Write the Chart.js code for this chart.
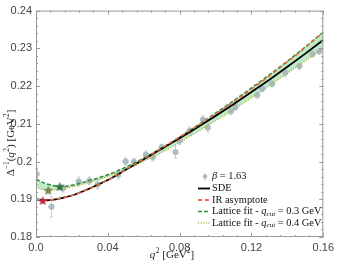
<!DOCTYPE html>
<html>
<head>
<meta charset="utf-8">
<script src="https://cdn.jsdelivr.net/npm/chart.js@4"></script>
<style>
  html, body { margin: 0; padding: 0; background: #fff; }
  #wrap { width: 338px; height: 263px; }
</style>
</head>
<body>
<div id="wrap"><canvas id="chart"></canvas></div>
<script>
// lattice data (beta = 1.63)
const latQ2 = [0.0003, 0.0086, 0.0150, 0.0238, 0.0297, 0.0343, 0.0458, 0.0499, 0.0545, 0.0612, 0.0650, 0.0700, 0.0777, 0.0800, 0.0856, 0.0930, 0.0957, 0.1085, 0.1110, 0.1232, 0.1260, 0.1315, 0.1388, 0.1467, 0.1540, 0.1577];
const latVal = [0.1967, 0.1880, 0.1929, 0.1947, 0.1949, 0.1939, 0.1965, 0.2000, 0.1999, 0.2018, 0.2012, 0.2038, 0.2025, 0.2055, 0.2081, 0.2111, 0.2090, 0.2133, 0.2144, 0.2176, 0.2193, 0.2206, 0.2236, 0.2253, 0.2285, 0.2292];
const latErr = [0.0015, 0.0027, 0.0010, 0.0012, 0.0010, 0.0012, 0.0012, 0.0010, 0.0010, 0.0010, 0.0010, 0.0008, 0.0016, 0.0010, 0.0010, 0.0010, 0.0012, 0.0008, 0.0008, 0.0008, 0.0008, 0.0008, 0.0012, 0.0008, 0.0008, 0.0008];

// curves
const curveQ2 = [0, 0.005, 0.01, 0.015, 0.02, 0.03, 0.04, 0.05, 0.06, 0.07, 0.08, 0.09, 0.10, 0.11, 0.12, 0.13, 0.14, 0.15, 0.16];
const sde   = [0.1900, 0.1897, 0.1899, 0.1904, 0.1910, 0.1929, 0.1951, 0.1978, 0.2006, 0.2034, 0.2062, 0.2091, 0.2121, 0.2152, 0.2184, 0.2217, 0.2251, 0.2286, 0.2322];
const irAsym = [0.1900, 0.1897, 0.1899, 0.1904, 0.1910, 0.1929, 0.1951, 0.1979, 0.2007, 0.2036, 0.2065, 0.2095, 0.2126, 0.2158, 0.2192, 0.2227, 0.2264, 0.2302, 0.2343];
const fit03 = [0.1953, 0.1942, 0.1936, 0.1934, 0.1937, 0.1950, 0.1965, 0.1985, 0.2009, 0.2036, 0.2065, 0.2096, 0.2128, 0.2161, 0.2195, 0.2230, 0.2266, 0.2304, 0.2343];
const fit04 = [0.1932, 0.1925, 0.1925, 0.1928, 0.1933, 0.1945, 0.1960, 0.1979, 0.2001, 0.2024, 0.2051, 0.2079, 0.2108, 0.2138, 0.2169, 0.2201, 0.2234, 0.2267, 0.2300];

// minima marked with stars
const starQ2 = [0.0037, 0.0068, 0.0132];
const starVal = [0.1897, 0.1924, 0.1934];
const starColors = ["#d81e48", "#7f8c3c", "#2c7a3c"];

const xTickLabels = ["0.0", "0.04", "0.08", "0.12", "0.16"];
const yTickLabels = ["0.18", "0.19", "0.2", "0.21", "0.22", "0.23", "0.24"];

const pointColor = "#aabec1";
const serif = "'Liberation Serif', 'DejaVu Serif', serif";
const sans = "'Liberation Sans', Arial, sans-serif";

function xy(xs, ys) {
	return xs.map((x, i) => ({ x: x, y: ys[i] }));
}

function makeStar(color, size) {
	const c = document.createElement("canvas");
	c.width = size;
	c.height = size;
	const g = c.getContext("2d");
	const r = size / 2 - 0.5;
	g.beginPath();
	for (let i = 0; i < 10; i++) {
		const rr = i % 2 ? r * 0.45 : r;
		const a = -Math.PI / 2 + (i * Math.PI) / 5;
		const px = size / 2 + rr * Math.cos(a);
		const py = size / 2 + 0.6 + rr * Math.sin(a);
		if (i === 0) g.moveTo(px, py);
		else g.lineTo(px, py);
	}
	g.closePath();
	g.fillStyle = color;
	g.fill();
	g.strokeStyle = "rgba(0,0,0,0.35)";
	g.lineWidth = 0.6;
	g.stroke();
	return c;
}

// rich text: segments {t, it, sup, sub}
function richWidth(ctx, segs, size) {
	let w = 0;
	segs.forEach((s) => {
		const fs = s.sup || s.sub ? size * 0.68 : size;
		ctx.font = (s.it ? "italic " : "") + fs + "px " + serif;
		w += ctx.measureText(s.t).width + (s.gap || 0);
	});
	return w;
}
function richText(ctx, segs, x, y, size) {
	let cx = x;
	ctx.textBaseline = "middle";
	ctx.textAlign = "left";
	segs.forEach((s) => {
		const fs = s.sup || s.sub ? size * 0.68 : size;
		ctx.font = (s.it ? "italic " : "") + fs + "px " + serif;
		let dy = 0;
		if (s.sup) dy = -size * 0.32;
		if (s.sub) dy = size * 0.22;
		ctx.fillText(s.t, cx, y + dy);
		cx += ctx.measureText(s.t).width + (s.gap || 0);
	});
	return cx;
}

const decorations = {
	id: "decorations",
	beforeDatasetDraw(chart, args) {
		if (args.index !== 0) return;
		const ctx = chart.ctx;
		const xs = chart.scales.x, ys = chart.scales.y;
		ctx.save();
		ctx.strokeStyle = "#b5c6c8";
		ctx.lineWidth = 0.8;
		latQ2.forEach((q, i) => {
			const px = xs.getPixelForValue(q);
			const y1 = ys.getPixelForValue(latVal[i] - latErr[i]);
			const y2 = ys.getPixelForValue(latVal[i] + latErr[i]);
			ctx.beginPath();
			ctx.moveTo(px, y1);
			ctx.lineTo(px, y2);
			ctx.moveTo(px - 1.5, y1);
			ctx.lineTo(px + 1.5, y1);
			ctx.moveTo(px - 1.5, y2);
			ctx.lineTo(px + 1.5, y2);
			ctx.stroke();
		});
		ctx.restore();
	},
	afterDraw(chart) {
		const ctx = chart.ctx;
		const a = chart.chartArea;
		const xs = chart.scales.x, ys = chart.scales.y;
		ctx.save();
		// frame
		ctx.strokeStyle = "#999";
		ctx.lineWidth = 1;
		ctx.strokeRect(a.left + 0.5, a.top + 0.5, a.right - a.left - 1, a.bottom - a.top - 1);
		// inward ticks on all sides
		ctx.beginPath();
		for (let k = 0; k <= 20; k++) {
			const px = Math.round(xs.getPixelForValue(k * 0.008)) + 0.5;
			const len = k % 5 === 0 ? 4 : 2;
			ctx.moveTo(px, a.bottom);
			ctx.lineTo(px, a.bottom - len);
			ctx.moveTo(px, a.top);
			ctx.lineTo(px, a.top + len);
		}
		for (let k = 0; k <= 30; k++) {
			const py = Math.round(ys.getPixelForValue(0.18 + k * 0.002)) + 0.5;
			const len = k % 5 === 0 ? 4 : 2;
			ctx.moveTo(a.left, py);
			ctx.lineTo(a.left + len, py);
			ctx.moveTo(a.right, py);
			ctx.lineTo(a.right - len, py);
		}
		ctx.stroke();

		// axis titles
		ctx.fillStyle = "#222";
		const xTitle = [{ t: "q", it: true, gap: 0.5 }, { t: "2", sup: true }, { t: " [GeV" }, { t: "2", sup: true }, { t: "]" }];
		const xw = richWidth(ctx, xTitle, 11);
		richText(ctx, xTitle, 172 - xw / 2, 255, 11);

		const yTitle = [{ t: "Δ" }, { t: "−1", sup: true }, { t: "(" }, { t: "q", it: true, gap: 0.5 }, { t: "2", sup: true }, { t: ") [GeV" }, { t: "2", sup: true }, { t: "]" }];
		const yw = richWidth(ctx, yTitle, 11);
		ctx.save();
		ctx.translate(11, 143);
		ctx.rotate(-Math.PI / 2);
		richText(ctx, yTitle, -yw / 2, 0, 11);
		ctx.restore();

		// legend
		const lx = 198, tx = 212;
		const rows = [176.5, 188.5, 200, 211.5, 223];
		// beta point
		ctx.strokeStyle = "#b5c6c8";
		ctx.lineWidth = 0.8;
		ctx.beginPath();
		ctx.moveTo(205, rows[0] - 4);
		ctx.lineTo(205, rows[0] + 4);
		ctx.stroke();
		ctx.fillStyle = pointColor;
		ctx.beginPath();
		ctx.arc(205, rows[0], 2.2, 0, Math.PI * 2);
		ctx.fill();
		const lines = [
			{ c: "#000", w: 1.8, d: [] },
			{ c: "#f0683a", w: 1.8, d: [4, 3] },
			{ c: "#2e8b3e", w: 1.6, d: [4, 2] },
			{ c: "#a9b23e", w: 1.6, d: [1, 1.6] },
		];
		lines.forEach((l, i) => {
			ctx.strokeStyle = l.c;
			ctx.lineWidth = l.w;
			ctx.setLineDash(l.d);
			ctx.beginPath();
			ctx.moveTo(lx, rows[i + 1]);
			ctx.lineTo(lx + 12, rows[i + 1]);
			ctx.stroke();
		});
		ctx.setLineDash([]);
		ctx.fillStyle = "#111";
		const labels = [
			[{ t: "β", it: true }, { t: " = 1.63" }],
			[{ t: "SDE" }],
			[{ t: "IR asymptote" }],
			[{ t: "Lattice fit - " }, { t: "q", it: true }, { t: "cut", sub: true, it: true }, { t: " = 0.3 GeV" }],
			[{ t: "Lattice fit - " }, { t: "q", it: true }, { t: "cut", sub: true, it: true }, { t: " = 0.4 GeV" }],
		];
		labels.forEach((segs, i) => richText(ctx, segs, tx, rows[i], 10.4));
		ctx.restore();
	},
};

new Chart(document.getElementById("chart"), {
	type: "scatter",
	data: {
		datasets: [
			{
				label: "beta = 1.63",
				data: xy(latQ2, latVal),
				backgroundColor: pointColor,
				borderColor: pointColor,
				pointRadius: 2.7,
				order: 10,
			},
			{
				label: "Lattice fit 0.3",
				data: xy(curveQ2, fit03),
				showLine: true,
				borderColor: "#2e8b3e",
				borderWidth: 1.5,
				borderDash: [4, 2],
				pointRadius: 0,
				cubicInterpolationMode: "monotone",
				fill: "+1",
				backgroundColor: "rgba(125, 218, 145, 0.5)",
				order: 4,
			},
			{
				label: "Lattice fit 0.4",
				data: xy(curveQ2, fit04),
				showLine: true,
				borderColor: "#a9b23e",
				borderWidth: 1.5,
				borderDash: [1, 1.6],
				pointRadius: 0,
				cubicInterpolationMode: "monotone",
				fill: false,
				order: 3,
			},
			{
				label: "SDE",
				data: xy(curveQ2, sde),
				showLine: true,
				borderColor: "#000",
				borderWidth: 1.8,
				pointRadius: 0,
				cubicInterpolationMode: "monotone",
				order: 2,
			},
			{
				label: "IR asymptote",
				data: xy(curveQ2, irAsym),
				showLine: true,
				borderColor: "#f0683a",
				borderWidth: 1.6,
				borderDash: [4, 3],
				pointRadius: 0,
				cubicInterpolationMode: "monotone",
				order: 1,
			},
			{
				label: "minima",
				data: xy(starQ2, starVal),
				pointStyle: starColors.map((c) => makeStar(c, 10)),
				order: 0,
			},
		],
	},
	options: {
		responsive: true,
		maintainAspectRatio: false,
		animation: false,
		layout: { padding: { top: 5, right: 11, left: 0, bottom: 0 } },
		plugins: {
			legend: { display: false },
			tooltip: { enabled: false },
			filler: { drawTime: "beforeDatasetsDraw" },
		},
		scales: {
			x: {
				type: "linear",
				min: 0,
				max: 0.16,
				ticks: {
					stepSize: 0.04,
					padding: 4,
					color: "#444",
					font: { family: sans, size: 11 },
					callback: (v, i) => xTickLabels[i],
				},
				grid: { display: false, drawTicks: false },
				border: { display: false },
				afterFit: (s) => { s.height = 26; },
			},
			y: {
				min: 0.18,
				max: 0.24,
				ticks: {
					stepSize: 0.01,
					padding: 4,
					color: "#444",
					font: { family: sans, size: 11 },
					callback: (v, i) => yTickLabels[i],
				},
				grid: { display: false, drawTicks: false },
				border: { display: false },
				afterFit: (s) => { s.width = 36; },
			},
		},
	},
	plugins: [decorations],
});
</script>
</body>
</html>
